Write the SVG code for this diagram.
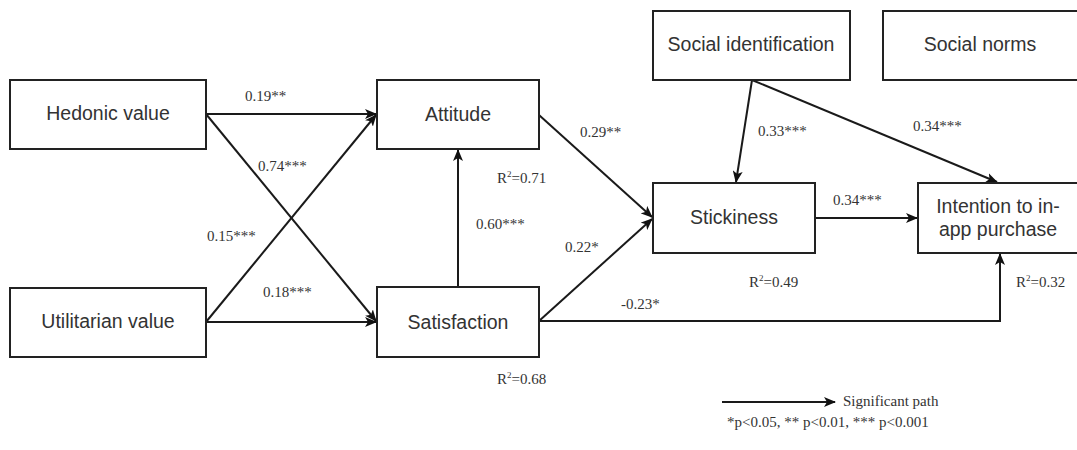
<svg xmlns="http://www.w3.org/2000/svg" width="1077" height="450" viewBox="0 0 1077 450">
  <style>
    .box { fill: #ffffff; stroke: #222222; stroke-width: 2; }
    .lbl { font-family: "Liberation Sans", Arial, sans-serif; font-size: 19.5px; fill: #333333; text-anchor: middle; }
    .coef { font-family: "Liberation Serif", "Times New Roman", serif; font-size: 15px; fill: #333333; }
    .edge { fill: none; stroke: #1a1a1a; stroke-width: 2; }
  </style>
  <defs>
    <marker id="arrow" viewBox="0 0 12 10" refX="11" refY="5" markerWidth="6" markerHeight="5" orient="auto" markerUnits="strokeWidth">
      <path d="M0,0 L12,5 L0,10 L3,5 Z" fill="#111111"/>
    </marker>
  </defs>
  <rect width="1077" height="450" fill="#ffffff"/>

  <!-- connectors -->
  <g id="connectors">
    <line class="edge" x1="206" y1="114" x2="376" y2="114" marker-end="url(#arrow)"/>
    <line class="edge" x1="206" y1="114" x2="376" y2="321" marker-end="url(#arrow)"/>
    <line class="edge" x1="206" y1="322" x2="376" y2="115" marker-end="url(#arrow)"/>
    <line class="edge" x1="206" y1="322" x2="376" y2="322" marker-end="url(#arrow)"/>
    <line class="edge" x1="458" y1="287" x2="458" y2="150" marker-end="url(#arrow)"/>
    <line class="edge" x1="539" y1="115" x2="652" y2="217" marker-end="url(#arrow)"/>
    <line class="edge" x1="539" y1="321" x2="652" y2="219" marker-end="url(#arrow)"/>
    <polyline class="edge" points="539,321 1000,321 1000,254" marker-end="url(#arrow)"/>
    <line class="edge" x1="752" y1="80" x2="736" y2="182" marker-end="url(#arrow)"/>
    <line class="edge" x1="752" y1="80" x2="997" y2="182" marker-end="url(#arrow)"/>
    <line class="edge" x1="815" y1="218" x2="917" y2="218" marker-end="url(#arrow)"/>
  </g>

  <!-- path coefficients and explained variance -->
  <g id="coefficients" class="coef">
    <text x="245" y="101">0.19**</text>
    <text x="258" y="171">0.74***</text>
    <text x="207" y="241">0.15***</text>
    <text x="263" y="297">0.18***</text>
    <text x="580" y="137">0.29**</text>
    <text x="476" y="229">0.60***</text>
    <text x="565" y="252">0.22*</text>
    <text x="621" y="309">-0.23*</text>
    <text x="758" y="136">0.33***</text>
    <text x="913" y="131">0.34***</text>
    <text x="833" y="205">0.34***</text>
    <text x="497" y="183">R<tspan dy="-6" font-size="9">2</tspan><tspan dy="6">=0.71</tspan></text>
    <text x="497" y="384">R<tspan dy="-6" font-size="9">2</tspan><tspan dy="6">=0.68</tspan></text>
    <text x="749" y="287">R<tspan dy="-6" font-size="9">2</tspan><tspan dy="6">=0.49</tspan></text>
    <text x="1016" y="287">R<tspan dy="-6" font-size="9">2</tspan><tspan dy="6">=0.32</tspan></text>
  </g>

  <!-- nodes -->
  <g id="hedonic">
    <rect class="box" x="10" y="80" width="196" height="69"/>
    <text class="lbl" x="108" y="120">Hedonic value</text>
  </g>
  <g id="utilitarian">
    <rect class="box" x="10" y="288" width="196" height="69"/>
    <text class="lbl" x="108" y="328">Utilitarian value</text>
  </g>
  <g id="attitude">
    <rect class="box" x="377" y="80" width="162" height="69"/>
    <text class="lbl" x="458" y="121">Attitude</text>
  </g>
  <g id="satisfaction">
    <rect class="box" x="377" y="287" width="162" height="70"/>
    <text class="lbl" x="458" y="329">Satisfaction</text>
  </g>
  <g id="social-identification">
    <rect class="box" x="653" y="11" width="197" height="69"/>
    <text class="lbl" x="751" y="51">Social identification</text>
  </g>
  <g id="social-norms">
    <rect class="box" x="883" y="11" width="200" height="69"/>
    <text class="lbl" x="980" y="51">Social norms</text>
  </g>
  <g id="stickiness">
    <rect class="box" x="653" y="183" width="162" height="70"/>
    <text class="lbl" x="734" y="224">Stickiness</text>
  </g>
  <g id="intention">
    <rect class="box" x="918" y="183" width="165" height="70"/>
    <text class="lbl" x="998" y="213">Intention to in-</text>
    <text class="lbl" x="998" y="236">app purchase</text>
  </g>

  <!-- legend -->
  <g id="legend">
    <line class="edge" x1="722" y1="402" x2="835" y2="402" marker-end="url(#arrow)"/>
    <text class="coef" x="843" y="406" font-size="14">Significant path</text>
    <text class="coef" x="727" y="427" font-size="14">*p&lt;0.05, ** p&lt;0.01, *** p&lt;0.001</text>
  </g>
</svg>
